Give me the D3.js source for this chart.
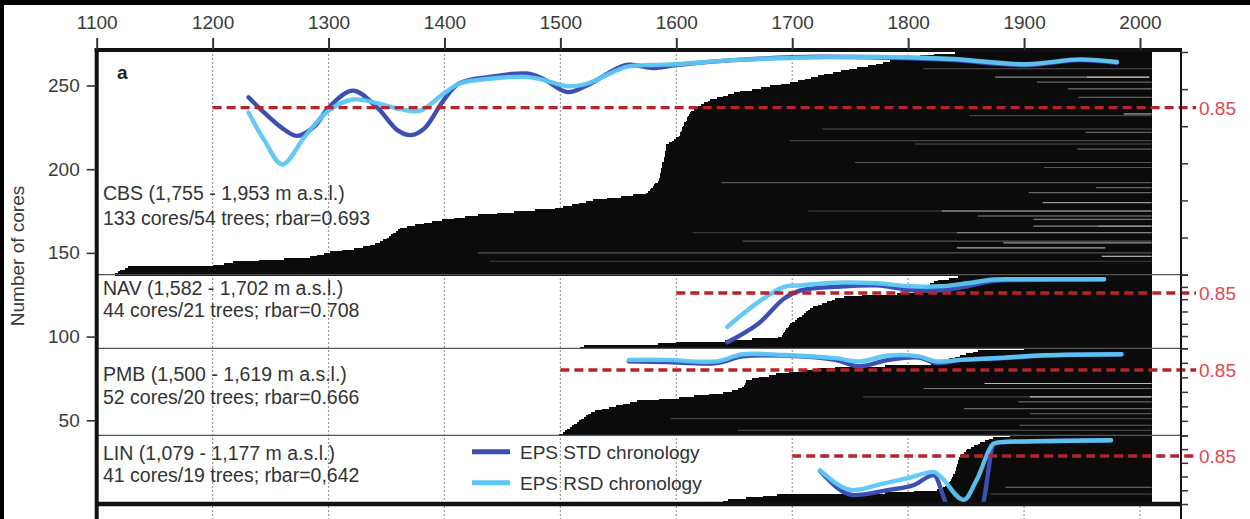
<!DOCTYPE html>
<html><head><meta charset="utf-8">
<script src="https://cdn.jsdelivr.net/npm/d3@7"></script>
<style>
body{margin:0;background:#fff;}
svg{display:block;}
text{font-family:"Liberation Sans",Arial,sans-serif;}
</style></head>
<body><svg id="c" width="1250" height="519"></svg>
<script>
// ---------------- DATA ----------------
const xTicks = [1100,1200,1300,1400,1500,1600,1700,1800,1900,2000];
const yTicks = [50,100,150,200,250];
const epsTicks = [0.4,0.5,0.6,0.7,0.8,0.9,1.0];
const epsThreshold = 0.85;
const coreEndYear = 2010;

// panel order from bottom to top
const panelNames = ["LIN","PMB","NAV","CBS"];
const panelTitles = ["LIN (1,079 - 1,177 m a.s.l.)","PMB (1,500 - 1,619 m a.s.l.)","NAV (1,582 - 1,702 m a.s.l.)","CBS (1,755 - 1,953 m a.s.l.)"];
const panelStats = ["41 cores/19 trees; rbar=0,642","52 cores/20 trees; rbar=0.666","44 cores/21 trees; rbar=0.708","133 cores/54 trees; rbar=0.693"];
const panelEpsMin = [0.5,0.4,0.4,0.4];
const thresholdFrom = [1700,1500,1600,1200];

// first year of each core (bottom core first)
const linStart = [1637,1640,1645,1660,1675,1687,1780,1805,1825,
  1830,1832,1834,1835,1836,1837,1838,1839,
  1839,1840,1840,1841,1841,1842,1842,1843,1843,1844,1844,1845,
  1846,1848,1850,1851,1854,1857,1860,1862,1866,1870,1873,1888];
const pmbStart = [1499,1502,
  1504,1506,1508,1510,1512,1514,1516,1518,1520,1522,1524,1526,
  1530,1536,1542,1548,1554,1560,1566,
  1585,1602,1615,1628,1640,1648,1653,1657,1658,1659,1660,1660,
  1665,1671,1680,1686,1697,1708,1722,1737,1780,1820,
  1825,1830,1835,1840,1845,1850,1856,1860,1900];
const navStart = [1517,1520,1584,1600,1642,1665,1688,1691,
  1692,1693,1694,1695,1696,1697,1698,1700,
  1702,1704,1706,1708,1710,1712,1714,1715,
  1718,1722,1726,1730,1734,1737,1745,1760,1790,
  1805,1808,1811,1814,1817,1819,1822,1826,1835,1843,1850];
const cbsStart = [1116,1118,1120,1124,1127,1200,1210,1218,1240,1262,1284,
  1290,1296,1301,1312,1322,1330,1336,1340,1344,1347,
  1350,1352,1354,1356,1358,1360,1362,1368,1375,1382,1389,
  1398,1408,1418,1429,1445,1460,1478,1495,1502,1510,1516,1522,1528,
  1540,1552,1563,1574,1576,1577,1578,1580,1581,1582,1584,
  1585,1585,1586,1586,1586,1587,1587,1587,1588,1588,1588,1589,1589,1589,1590,1590,1590,1590,1591,1591,1591,1591,
  1594,1596,1598,1600,
  1602,1603,1603,1604,1605,1605,1606,1607,1607,1608,1609,1609,1610,1611,1612,1613,
  1615,1617,1619,1621,1624,1627,1629,1635,1640,1645,1650,1655,
  1665,1673,1681,1690,1698,1705,1711,1716,1722,1727,
  1735,1742,1749,1756,1765,1772,1778,1784,1790,1799,1810,1822,1840];

// lighter streaks inside the core block: [core row, from year, to year, tone]
const streakRow  = [260,255,255,252,248,243,233,232,224,222,217,215,212,204,201,192,189,186,180,175,175,172,170,166,166,162,162,157,156,153,150,148,145,
  72,69,64,64,61,57,54,51,47,44, 10,6];
const streakFrom = [1813,1875,1954,1911,1938,1947,1986,1853,1726,1953,1698,1806,1946,1754,1917,1639,1962,1904,1916,1714,1829,1860,1908,1908,1964,1614,1842,1657,1882,1842,1429,1967,1439,
  1866,1813,1761,1905,1895,1848,1905,1595,1896,1653, 1884,1871];
const streakTo   = [2010,1954,2008,2010,2010,2010,2010,2010,2010,2010,2010,2010,2010,2010,2010,2010,2010,2010,2010,1829,2010,2010,2010,1964,2010,1842,2010,2010,2010,1970,2010,2010,2010,
  2010,2010,1905,2010,2010,2010,2010,2010,2010,2010, 2010,2010];
const streakTone = ["#555","#888","#ddd","#666","#777","#777","#bbb","#444","#555","#666","#555","#555","#666","#555","#555","#555","#666","#666","#999","#444","#ccc","#888","#777","#888","#bbb","#444","#aaa","#555","#999","#aaa","#555","#ddd","#444",
  "#bbb","#777","#444","#ccc","#666","#666","#555","#444","#666","#444", "#777","#555"];

// EPS curves
const cbsStdYears = [1231,1245,1260,1273,1288,1300,1321,1342,1360,1371,1383,1399,1413,1439,1471,1485,1506,1523,1557,1580,1600,1649,1724,1799,1839,1902,1948,1980];
const cbsStd      = [0.878,0.835,0.795,0.774,0.80,0.85,0.896,0.85,0.788,0.776,0.795,0.869,0.916,0.933,0.942,0.928,0.892,0.910,0.965,0.957,0.965,0.978,0.987,0.983,0.978,0.965,0.978,0.971];
const cbsRsdYears = [1231,1245,1260,1280,1300,1321,1342,1362,1379,1399,1413,1439,1471,1485,1506,1523,1557,1580,1600,1649,1724,1799,1839,1902,1948,1980];
const cbsRsd      = [0.837,0.760,0.697,0.774,0.842,0.872,0.862,0.846,0.842,0.887,0.915,0.928,0.933,0.925,0.908,0.915,0.960,0.965,0.967,0.978,0.986,0.986,0.981,0.967,0.980,0.973];
const navStdYears = [1644,1671,1693,1708,1737,1773,1802,1828,1851,1874,1900,1969];
const navStd      = [0.449,0.603,0.806,0.873,0.90,0.913,0.875,0.872,0.905,0.950,0.957,0.962];
const navRsdYears = [1644,1671,1693,1708,1737,1773,1802,1828,1851,1874,1900,1969];
const navRsd      = [0.575,0.778,0.90,0.913,0.935,0.930,0.905,0.905,0.930,0.960,0.962,0.962];
const pmbStdYears = [1559,1591,1635,1657,1693,1737,1758,1783,1809,1824,1846,1882,1918,1984];
const pmbStd      = [0.910,0.905,0.898,0.944,0.950,0.920,0.876,0.920,0.937,0.898,0.920,0.932,0.950,0.959];
const pmbRsdYears = [1559,1591,1635,1657,1693,1737,1758,1783,1809,1824,1846,1882,1918,1984];
const pmbRsd      = [0.920,0.920,0.910,0.959,0.954,0.932,0.910,0.950,0.944,0.910,0.920,0.935,0.952,0.959];
const linStdYears = [1724,1753,1782,1805,1822,1832,1840,1858,1865,1874,1880,1908,1975];
const linStd      = [0.740,0.565,0.601,0.638,0.710,0.517,0.35,0.35,0.517,0.940,0.951,0.957,0.964];
const linRsdYears = [1724,1753,1779,1799,1822,1828,1848,1859,1874,1880,1908,1975];
const linRsd      = [0.746,0.601,0.650,0.686,0.734,0.698,0.529,0.674,0.940,0.951,0.957,0.964];

const legendLabels = ["EPS STD chronology","EPS RSD chronology"];

// ---------------- DRAW ----------------
const svg = d3.select("#c");
const L = 96.7, R = 1181, T = 50, B = 504;
const x = d3.scaleLinear().domain([1100,2000]).range([L,1140]);
const y = d3.scaleLinear().domain([0,270]).range([B,52]);
const colStd = "#3d4fb3", colRsd = "#5cc7f4";

svg.append("rect").attr("width",1250).attr("height",519).attr("fill","#fff");

const starts = [linStart,pmbStart,navStart,cbsStart];
const stdY = [linStdYears,pmbStdYears,navStdYears,cbsStdYears];
const stdV = [linStd,pmbStd,navStd,cbsStd];
const rsdY = [linRsdYears,pmbRsdYears,navRsdYears,cbsRsdYears];
const rsdV = [linRsd,pmbRsd,navRsd,cbsRsd];
let acc = 0;
const panels = panelNames.map((n,i)=>{
  const base = acc; acc += starts[i].length;
  const top = acc;
  const eps = d3.scaleLinear().domain([panelEpsMin[i],1.0]).range([y(base),y(top)]);
  return {i,name:n,base,top,eps};
});

// grid
svg.append("g").selectAll("line").data(xTicks.filter(d=>d>1100)).join("line")
  .attr("x1",d=>x(d)).attr("x2",d=>x(d)).attr("y1",T).attr("y2",519)
  .attr("stroke","#9a9a9a").attr("stroke-width",1.2).attr("stroke-dasharray","2,2");

// cores
const gCores = svg.append("g").attr("shape-rendering","crispEdges");
panels.forEach(p=>{
  gCores.selectAll(null).data(starts[p.i]).join("rect")
    .attr("x",d=>x(d)).attr("width",d=>x(coreEndYear)-x(d))
    .attr("y",(d,k)=>y(p.base+k+1)).attr("height",(d,k)=>y(p.base+k)-y(p.base+k+1)+1)
    .attr("fill","#0b0b0b");
});
// streaks
svg.append("g").selectAll("line").data(streakRow).join("line")
  .attr("x1",(d,k)=>x(streakFrom[k])).attr("x2",(d,k)=>x(streakTo[k]))
  .attr("y1",d=>y(d)).attr("y2",d=>y(d))
  .attr("stroke",(d,k)=>streakTone[k]).attr("stroke-width",1.1);

// separators
svg.append("g").selectAll("line").data(panels.slice(1)).join("line")
  .attr("x1",L).attr("x2",R).attr("y1",p=>y(p.base)).attr("y2",p=>y(p.base))
  .attr("stroke","#555").attr("stroke-width",1.2);

// curves
const defs = svg.append("defs");
panels.forEach(p=>{
  defs.append("clipPath").attr("id","clip"+p.name).append("rect")
    .attr("x",L).attr("width",R-L).attr("y",y(p.top)).attr("height",Math.min(y(p.base),502)-y(p.top));
  const curve = p.name==="LIN" ? d3.curveMonotoneX : d3.curveCatmullRom.alpha(0.5);
  const line = d3.line().x(d=>x(d[0])).y(d=>p.eps(d[1])).curve(curve);
  const g = svg.append("g").attr("clip-path","url(#clip"+p.name+")");
  g.append("path").attr("d",line(d3.zip(stdY[p.i],stdV[p.i])))
    .attr("fill","none").attr("stroke",colStd).attr("stroke-width",4.4).attr("stroke-linecap","round");
  g.append("path").attr("d",line(d3.zip(rsdY[p.i],rsdV[p.i])))
    .attr("fill","none").attr("stroke",colRsd).attr("stroke-width",4.4).attr("stroke-linecap","round").attr("opacity",0.95);
});

// thresholds
panels.forEach(p=>{
  const yy = p.eps(epsThreshold);
  svg.append("line").attr("x1",x(thresholdFrom[p.i])).attr("x2",1196).attr("y1",yy).attr("y2",yy)
    .attr("stroke","#b5242c").attr("stroke-width",3.4).attr("stroke-dasharray","9,5");
  svg.append("text").attr("x",1199).attr("y",yy+7).attr("font-size",19).attr("fill","#e0474f").text(String(epsThreshold));
});

// frame
svg.append("line").attr("x1",L-2).attr("x2",R+1).attr("y1",T).attr("y2",T).attr("stroke","#111").attr("stroke-width",4);
svg.append("line").attr("x1",L).attr("x2",L).attr("y1",T-2).attr("y2",519).attr("stroke","#111").attr("stroke-width",4);
svg.append("line").attr("x1",R).attr("x2",R).attr("y1",T).attr("y2",519).attr("stroke","#111").attr("stroke-width",2);
svg.append("line").attr("x1",L).attr("x2",R).attr("y1",B).attr("y2",B).attr("stroke","#111").attr("stroke-width",4.5);

// top axis
const xAxis = d3.axisTop(x).tickValues(xTicks).tickFormat(d3.format("d")).tickSize(12).tickPadding(9);
const gx = svg.append("g").attr("transform",`translate(0,${T})`).call(xAxis);
gx.select(".domain").remove();
gx.selectAll(".tick line").attr("stroke","#333").attr("stroke-width",2);
gx.selectAll(".tick text").attr("font-size",19).attr("fill","#3a3a3a").attr("font-family","Liberation Sans, Arial, sans-serif");

// left axis
const yAxis = d3.axisLeft(y).tickValues(yTicks).tickSize(10).tickPadding(7);
const gy = svg.append("g").attr("transform",`translate(${L},0)`).call(yAxis);
gy.select(".domain").remove();
gy.selectAll(".tick line").attr("stroke","#333").attr("stroke-width",1.6);
gy.selectAll(".tick text").attr("font-size",19).attr("fill","#3a3a3a").attr("font-family","Liberation Sans, Arial, sans-serif");

svg.append("text").attr("transform","translate(24,256) rotate(-90)").attr("text-anchor","middle")
  .attr("font-size",19).attr("fill","#3a3a3a").text("Number of cores");

// right eps axes
panels.forEach(p=>{
  const ticks = epsTicks.filter(t=>t>=panelEpsMin[p.i]-1e-9);
  const ga = svg.append("g").attr("transform",`translate(${R},0)`).call(d3.axisRight(p.eps).tickValues(ticks).tickSize(7).tickFormat(""));
  ga.select(".domain").remove();
  ga.selectAll(".tick line").attr("stroke","#333").attr("stroke-width",1.5);
});

// panel labels
const textY1 = [459.5,381,294.5,199.5], textY2 = [482,403.7,317,225.3];
panels.forEach(p=>{
  svg.append("text").attr("x",103).attr("y",textY1[p.i]).attr("font-size",19.5).attr("fill","#333").text(panelTitles[p.i]);
  svg.append("text").attr("x",103).attr("y",textY2[p.i]).attr("font-size",19.5).attr("fill","#333").text(panelStats[p.i]);
});
svg.append("text").attr("x",117).attr("y",79).attr("font-size",19).attr("font-weight","bold")
  .attr("font-family","Liberation Serif, Times New Roman, serif").attr("fill","#222").text("a");

// legend
const leg = svg.append("g");
[colStd,colRsd].forEach((c,k)=>{
  const yy = 451.7 + k*31;
  leg.append("line").attr("x1",472).attr("x2",510).attr("y1",yy).attr("y2",yy).attr("stroke",c).attr("stroke-width",5);
  leg.append("text").attr("x",520).attr("y",yy+7).attr("font-size",19).attr("fill","#333").text(legendLabels[k]);
});

// outer dark border of the scan
svg.append("rect").attr("x",0).attr("y",0).attr("width",1250).attr("height",5).attr("fill","#000");
svg.append("rect").attr("x",0).attr("y",0).attr("width",4).attr("height",519).attr("fill","#000");
</script></body></html>
